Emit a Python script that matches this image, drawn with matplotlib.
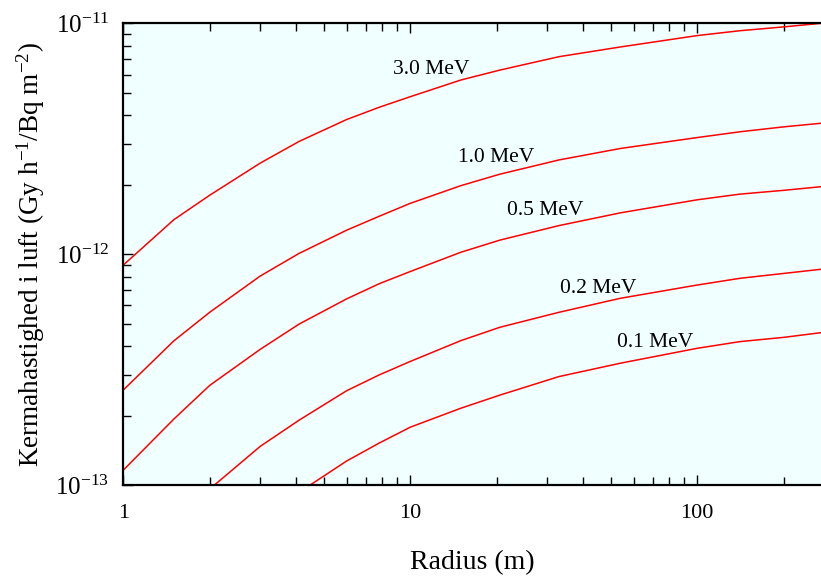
"""
Kerma rate in air vs radius, log-log
"""
import numpy as np
import matplotlib
matplotlib.use("Agg")
import matplotlib.pyplot as plt
from matplotlib.ticker import FixedLocator, LogLocator, FuncFormatter, NullFormatter

plt.rcParams['font.family'] = ['Liberation Serif', 'DejaVu Serif']
plt.rcParams['mathtext.fontset'] = 'custom'
plt.rcParams['mathtext.rm'] = 'Liberation Serif'
plt.rcParams['mathtext.it'] = 'Liberation Serif:italic'

# radius (m)
radius = [1, 1.5, 2, 3, 4.1, 6, 7.8, 10, 15, 20.5, 33, 54, 100, 141, 200, 270]

# kerma rate (Gy h^-1 / Bq m^-2)
k_3_0 = [8.97e-13, 1.41e-12, 1.80e-12, 2.48e-12, 3.08e-12, 3.83e-12, 4.33e-12, 4.81e-12,
         5.68e-12, 6.27e-12, 7.17e-12, 7.90e-12, 8.85e-12, 9.29e-12, 9.65e-12, 1.0e-11]
k_1_0 = [2.58e-13, 4.21e-13, 5.60e-13, 8.04e-13, 1.008e-12, 1.27e-12, 1.46e-12, 1.66e-12,
         1.98e-12, 2.22e-12, 2.56e-12, 2.87e-12, 3.20e-12, 3.39e-12, 3.56e-12, 3.69e-12]
k_0_5 = [1.16e-13, 1.93e-13, 2.70e-13, 3.87e-13, 4.98e-13, 6.40e-13, 7.45e-13, 8.41e-13,
         1.019e-12, 1.15e-12, 1.33e-12, 1.51e-12, 1.72e-12, 1.82e-12, 1.89e-12, 1.96e-12]
k_0_2 = [4.1e-14, 6.9e-14, 9.6e-14, 1.47e-13, 1.91e-13, 2.56e-13, 3.00e-13, 3.43e-13,
         4.22e-13, 4.82e-13, 5.60e-13, 6.44e-13, 7.35e-13, 7.86e-13, 8.25e-13, 8.60e-13]
k_0_1 = [1.9e-14, 3.2e-14, 4.5e-14, 7.0e-14, 9.3e-14, 1.27e-13, 1.52e-13, 1.78e-13,
         2.15e-13, 2.45e-13, 2.95e-13, 3.37e-13, 3.91e-13, 4.18e-13, 4.36e-13, 4.57e-13]

series = [k_3_0, k_1_0, k_0_5, k_0_2, k_0_1]
labels = ['3.0 MeV', '1.0 MeV', '0.5 MeV', '0.2 MeV', '0.1 MeV']
# where each label sits (data coords)
label_x = [11.8, 19.9, 29.5, 45.1, 71.2]
label_y = [6.3e-12, 2.62e-12, 1.55e-12, 7.1e-13, 4.15e-13]

fig = plt.figure(figsize=(8.21, 5.76), dpi=100)
ax = fig.add_axes([0.1502, 0.158, 0.8498, 0.8015])
ax.set_facecolor('#f0ffff')

for vals in series:
    ax.plot(radius, vals, color='red', lw=1.1)

for lab, lx, ly in zip(labels, label_x, label_y):
    ax.text(lx, ly, lab, fontsize=15.5, ha='center', va='center', color='black')

ax.set_xscale('log')
ax.set_yscale('log')
ax.set_xlim(1, 270)
ax.set_ylim(1e-13, 1e-11)

ax.xaxis.set_major_locator(FixedLocator([1, 10, 100]))
ax.xaxis.set_minor_locator(FixedLocator([2, 3, 4, 5, 6, 7, 8, 9, 20, 30, 40, 50, 60, 70, 80, 90, 200]))
ax.xaxis.set_major_formatter(FuncFormatter(lambda v, p: '%d' % round(v)))
ax.xaxis.set_minor_formatter(NullFormatter())
ax.yaxis.set_major_locator(FixedLocator([1e-13, 1e-12, 1e-11]))
ax.yaxis.set_minor_locator(LogLocator(base=10, subs=np.arange(2, 10), numticks=20))
ax.yaxis.set_major_formatter(FuncFormatter(
    lambda v, p: r'$\mathregular{10^{%d}}$' % round(np.log10(v))))
ax.yaxis.set_minor_formatter(NullFormatter())

ax.tick_params(which='both', direction='in', top=True, right=False, colors='black')
ax.tick_params(axis='x', labelsize=16)
ax.tick_params(axis='y', labelsize=18)
ax.tick_params(which='major', length=7.5, width=1.0)
ax.tick_params(which='minor', length=5.5, width=1.0)
ax.tick_params(axis='x', which='major', pad=14)
ax.tick_params(axis='y', which='major', pad=10)

for s in ['left', 'top', 'bottom']:
    ax.spines[s].set_linewidth(1.6)
ax.spines['right'].set_visible(False)

ax.set_xlabel('Radius (m)', fontsize=20, labelpad=19)
ax.set_ylabel('Kermahastighed i luft (Gy h$^{-1}$/Bq m$^{-2}$)', fontsize=19.5, labelpad=6)

fig.savefig('out.png', dpi=100)
